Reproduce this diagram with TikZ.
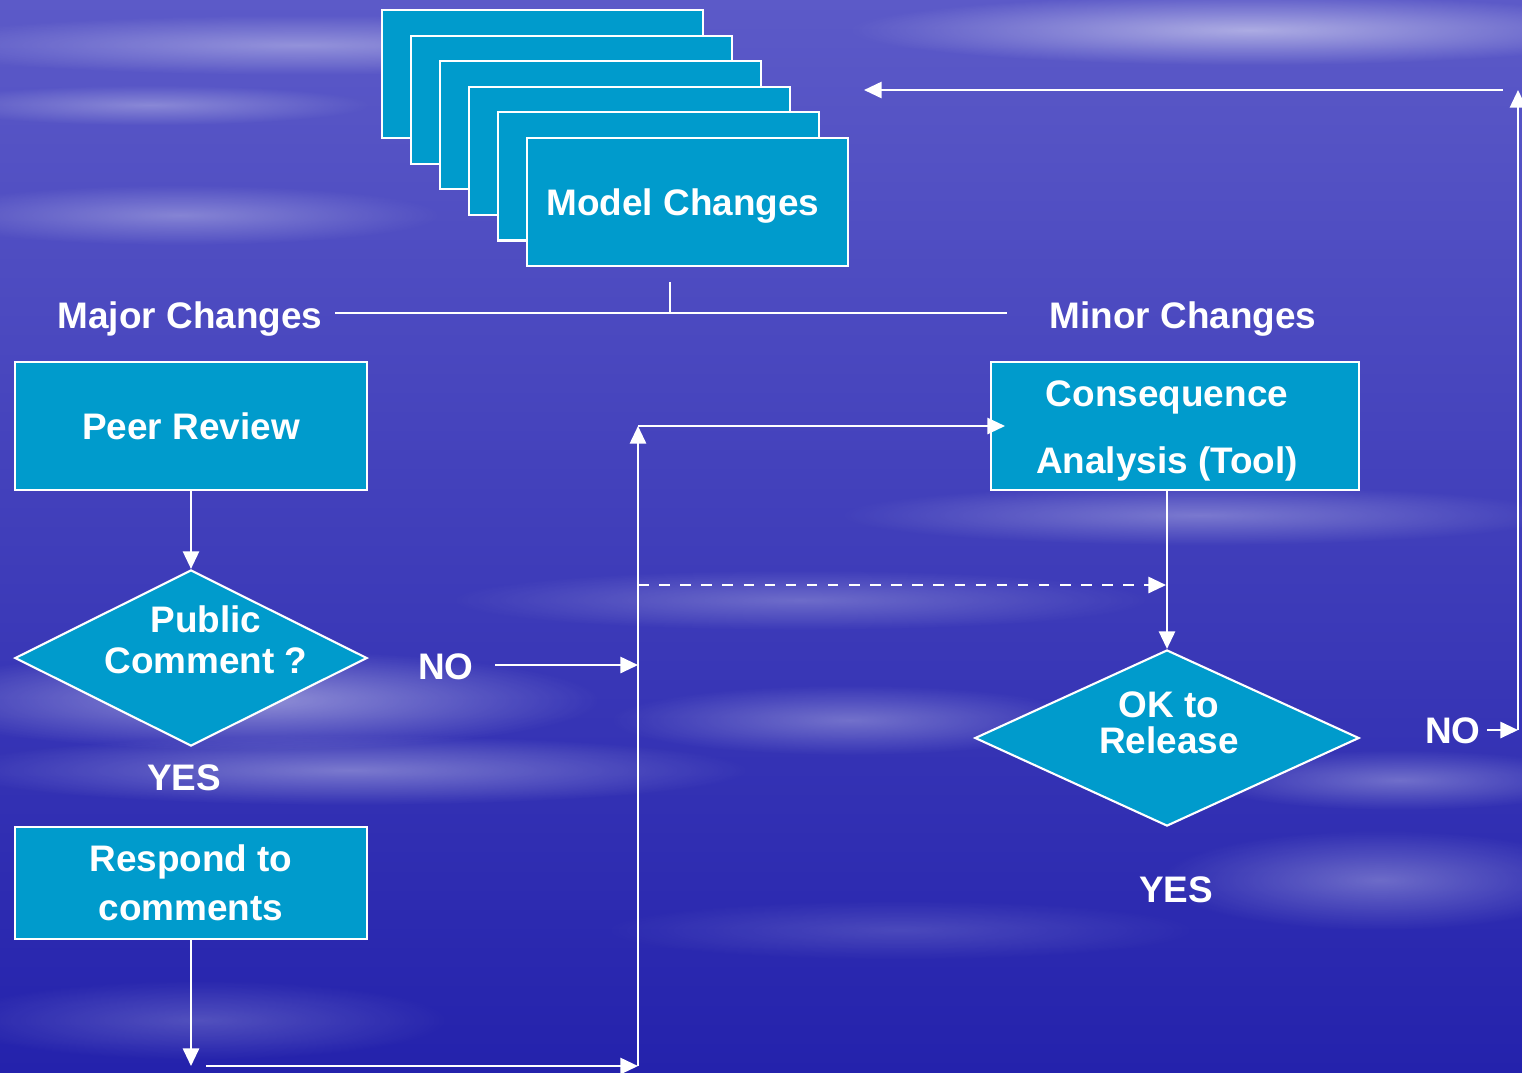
\documentclass[tikz,border=0pt]{standalone}
\usepackage{fontspec}
\setmainfont{Liberation Sans}
\usetikzlibrary{positioning,shapes.geometric,arrows.meta,fadings}
\definecolor{skytop}{RGB}{92,90,200}
\definecolor{skymid}{RGB}{48,44,176}
\definecolor{skylow}{RGB}{36,34,172}
\definecolor{boxblue}{RGB}{0,155,204}
\tikzfading[name=softglow,inner color=transparent!0,outer color=transparent!100]

\begin{document}
\begin{tikzpicture}[x=0.01cm,y=-0.01cm,
  lbl/.style={text=white,font=\fontsize{10.5}{12.6}\selectfont\bfseries,inner sep=0pt},
  box/.style={lbl,draw=white,line width=0.6pt,fill=boxblue,minimum width=3.52cm,minimum height=1.28cm,align=center},
  stackbox/.style={box,minimum width=3.2cm},
  decision/.style={diamond,draw=white,line width=0.6pt,fill=boxblue,aspect=2,inner sep=0pt,minimum width=3.52cm,minimum height=1.76cm},
  conn/.style={draw=white,line width=0.6pt,-{Triangle[length=5pt,width=4.6pt]}}]
% Background sky
\useasboundingbox (0,0) rectangle (1522,1072);
\fill[top color=skytop,middle color=skymid,bottom color=skylow] (0,0) rectangle (1522,1072);
\foreach \sx/\sy/\rx/\ry/\op in {300/45/4/0.3/0.35, 1250/30/4/0.35/0.5, 150/105/2.2/0.2/0.3,
    180/215/2.6/0.3/0.3, 1200/515/3.6/0.3/0.3, 800/600/3.5/0.3/0.25, 250/700/3.5/0.5/0.45,
    350/770/4/0.35/0.35, 850/720/2.4/0.35/0.3, 1400/780/2/0.3/0.3, 1380/880/2.2/0.5/0.3,
    200/1020/2.5/0.4/0.2, 900/930/3/0.3/0.15}
  \fill[white,opacity=\op,path fading=softglow] (\sx,\sy) ellipse [x radius=\rx cm,y radius=\ry cm];

% Model change stack
\foreach \i in {0,...,4}
  \node[stackbox] (mc\i) at (542.5+29*\i,74+25.6*\i) {};
\node[stackbox] (mc) at (687.5,202) {};
\node[lbl] (mctext) at (683,206) {Model Changes};

% Labels and boxes
\node[lbl] (major) at (190,319) {Major Changes};
\node[lbl] (minor) at (1183,319) {Minor Changes};
\node[box] (pr) at (191,426) {Peer Review};
\node[decision] (pc) at (191,658) {};
\node[lbl,align=center,font=\fontsize{10.5}{11.7}\selectfont\bfseries] (pctext) at (206,640) {Public\\Comment ?};
\node[lbl] (yes1) at (184,778) {YES};
\node[box,minimum height=1.12cm,font=\fontsize{10.5}{13.9}\selectfont\bfseries] (rc) at (191,883) {Respond to\\comments};
\node[lbl] (no1) at (446,667) {NO};
\node[box,minimum width=3.68cm] (cs) at (1175,426) {};
\node[lbl,align=center,font=\fontsize{10.5}{19}\selectfont\bfseries] (cstext) at (1167,431) {Consequence\\Analysis (Tool)};
\node[decision,minimum width=3.84cm] (ok) at (1167,738) {};
\node[lbl,align=center,font=\fontsize{10.5}{10.2}\selectfont\bfseries] (oktext) at (1169,723) {OK to\\Release};
\node[lbl] (yes2) at (1176,890) {YES};
\node[lbl] (no2) at (1453,731) {NO};

% Connector points
\coordinate (stub) at (670,282);
\coordinate (split) at (670,313);
\coordinate (hl) at (335,313);
\coordinate (hr) at (1007,313);
\coordinate (rcend) at (191,1066);
\coordinate (jl) at (206,1066);
\coordinate (jb) at (638,1066);
\coordinate (jt) at (638,426);
\coordinate (jm) at (638,585);
\coordinate (jn) at (638,665);
\coordinate (csin) at (1005,426);
\coordinate (dashend) at (1166,585);
\coordinate (no1s) at (495,665);
\coordinate (no2s) at (1487,730);
\coordinate (rb) at (1518,730);
\coordinate (rt) at (1518,90);
\coordinate (tr) at (1503,90);
\coordinate (tl) at (864,90);

% Connectors
\draw[white,line width=0.6pt] (stub) -- (split);
\draw[white,line width=0.6pt] (hl) -- (hr);
\draw[conn] (pr) -- (pc);
\draw[conn] (rc) -- (rcend);
\draw[conn] (jl) -- (jb);
\draw[conn] (jb) -- (jt);
\draw[conn] (jt) -- (csin);
\draw[conn,dashed] (jm) -- (dashend);
\draw[conn] (no1s) -- (jn);
\draw[conn] (cs.south -| ok.north) -- (ok.north);
\draw[conn] (no2s) -- (rb);
\draw[conn] (rb) -- (rt);
\draw[conn] (tr) -- (tl);
\end{tikzpicture}
\end{document}
